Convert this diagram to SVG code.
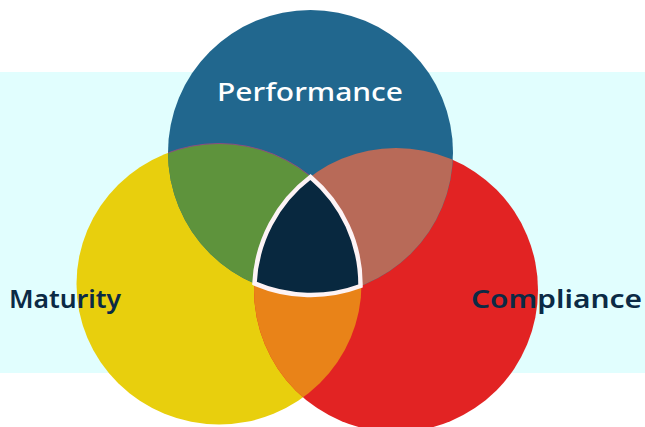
<svg xmlns="http://www.w3.org/2000/svg" width="645" height="427" viewBox="0 0 645 427">
<style>
.lbl{font-family:"Noto Sans","Liberation Sans",sans-serif;font-size:26px;font-weight:600}
.dark{fill:#0b2a45}
.white{fill:#ffffff;font-weight:500}
</style>
<defs>
<clipPath id="cBlue"><circle cx="310.5" cy="152.5" r="142.5"/></clipPath>
<clipPath id="cRed"><circle cx="396" cy="290" r="142"/></clipPath>
</defs>
<rect x="0" y="0" width="645" height="427" fill="#ffffff"/>
<rect id="band" x="0" y="72" width="645" height="301" fill="#e1fefe"/>
<g id="maturity-circle"><ellipse cx="219" cy="284" rx="142.5" ry="140.5" fill="#e8cf0d"/></g>
<g id="compliance-circle"><circle cx="396" cy="290" r="142" fill="#e22323"/></g>
<g id="performance-circle"><circle cx="310.5" cy="152.5" r="142.5" fill="#21678e"/></g>
<g id="overlaps">
<ellipse cx="219" cy="284" rx="142.5" ry="140.5" fill="#e98318" clip-path="url(#cRed)"/>
<g clip-path="url(#cBlue)">
<ellipse cx="219" cy="284" rx="142.5" ry="140.5" fill="#5e933c" stroke="#8d4d80" stroke-width="1"/>
<circle cx="396" cy="290" r="142" fill="#b86a58"/>
</g>
</g>
<g id="core">
<path d="M310.5,177 A142,142 0 0 0 254.5,283.4 A142.5,142.5 0 0 0 360.5,286 A141,141 0 0 0 310.5,177 Z" fill="#08283f" stroke="#fdf3f5" stroke-width="4.5" stroke-linejoin="miter"/>
</g>
<g id="label-performance"><text class="lbl white" x="217" y="101" textLength="186" lengthAdjust="spacingAndGlyphs">Performance</text></g>
<g id="label-maturity"><text class="lbl dark" x="9" y="308" textLength="112" lengthAdjust="spacingAndGlyphs">Maturity</text></g>
<g id="label-compliance"><text class="lbl dark" x="471" y="308" textLength="171" lengthAdjust="spacingAndGlyphs">Compliance</text></g>
</svg>
